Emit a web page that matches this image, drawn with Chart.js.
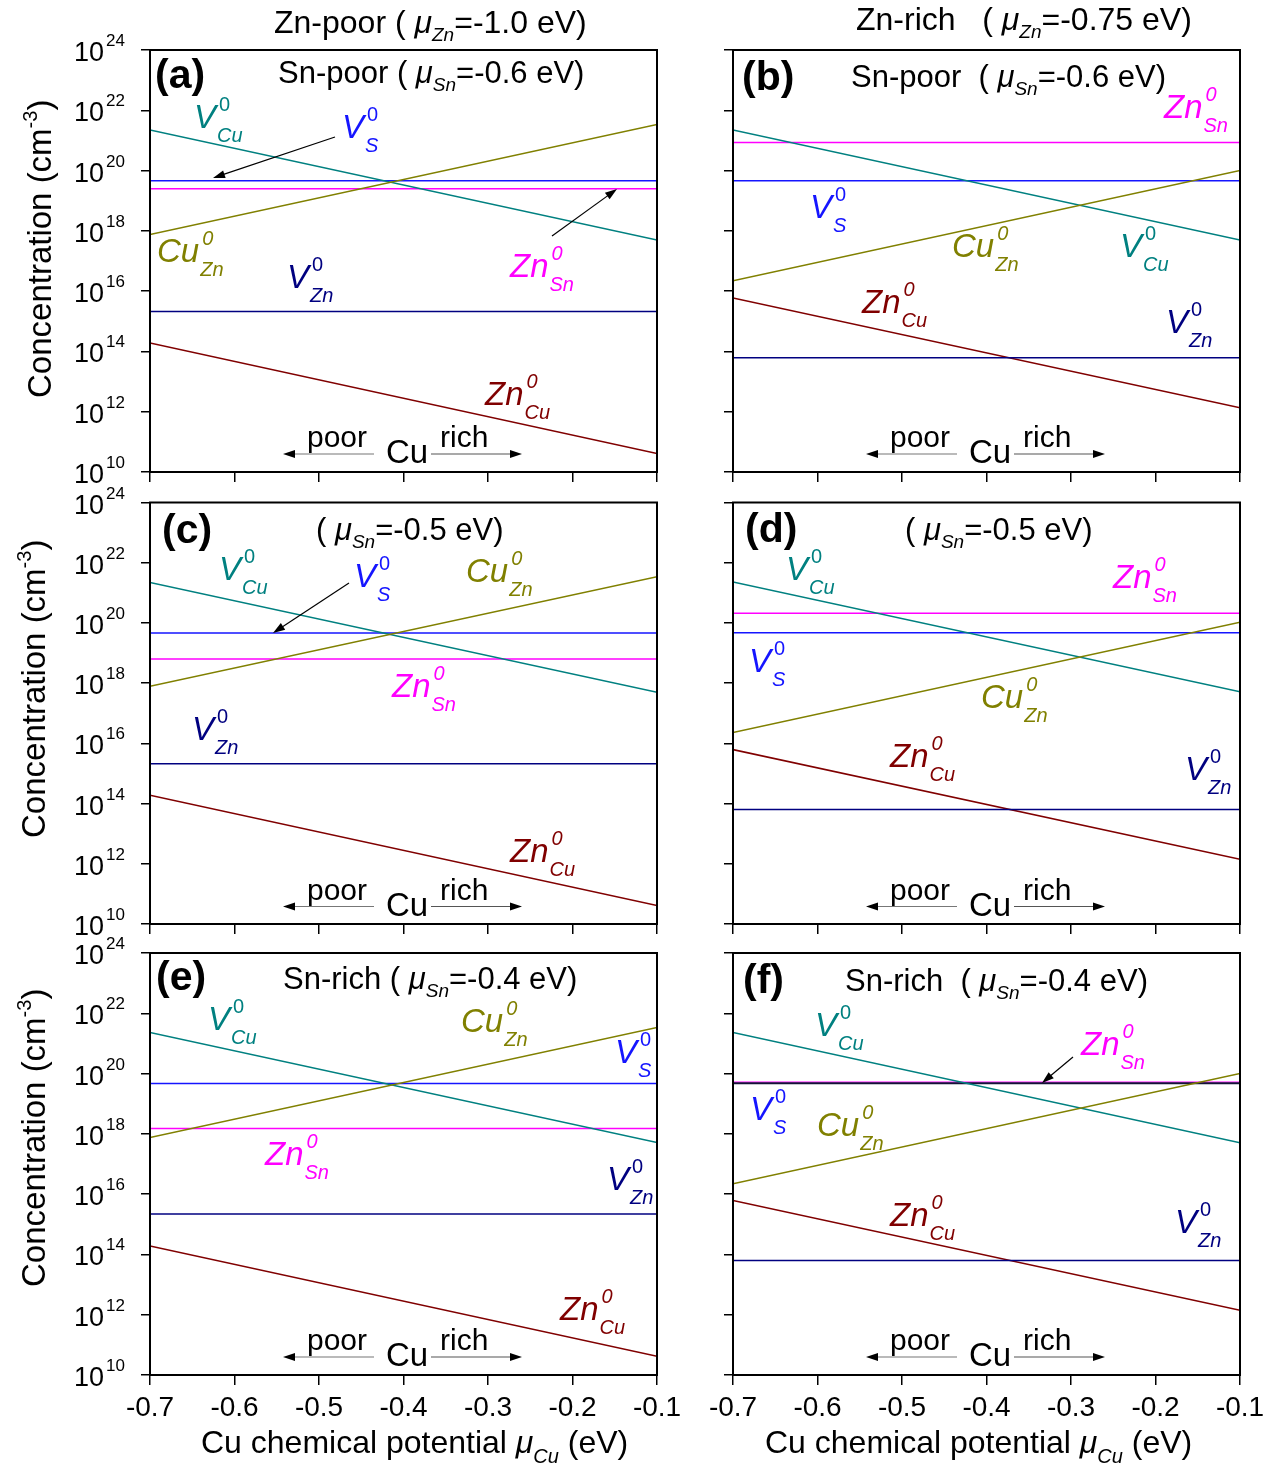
<!DOCTYPE html>
<html><head><meta charset="utf-8">
<script src="https://cdn.jsdelivr.net/npm/chart.js@4.4.1/dist/chart.umd.min.js"></script>
<style>
html,body{margin:0;padding:0;background:#fff;}
body{width:1283px;height:1468px;position:relative;overflow:hidden;}
canvas{position:absolute;}
</style></head><body>
<script>
// ---------------- DATA ----------------
const muCu = [-0.7, -0.1];                       // Cu chemical potential (eV), line end points
const xTicks = [-0.7, -0.6, -0.5, -0.4, -0.3, -0.2, -0.1];
const yTicks = [1e10, 1e12, 1e14, 1e16, 1e18, 1e20, 1e22, 1e24];

// (a) Zn-poor, Sn-poor
const a_VCu  = [2.2e21, 5.0e17];
const a_CuZn = [7.6e17, 3.4e21];
const a_VS   = [4.6e19, 4.6e19];
const a_ZnSn = [2.5e19, 2.5e19];
const a_VZn  = [2.1e15, 2.1e15];
const a_ZnCu = [1.9e14, 4.1e10];
// (b) Zn-rich, Sn-poor
const b_VCu  = [2.2e21, 5.0e17];
const b_CuZn = [2.2e16, 1.0e20];
const b_VS   = [4.6e19, 4.6e19];
const b_ZnSn = [8.5e20, 8.5e20];
const b_VZn  = [6.2e13, 6.2e13];
const b_ZnCu = [5.9e15, 1.35e12];
// (c) Zn-poor, mu_Sn = -0.5
const c_VCu  = [2.2e21, 5.0e17];
const c_CuZn = [7.8e17, 3.4e21];
const c_VS   = [4.6e19, 4.6e19];
const c_ZnSn = [6.3e18, 6.3e18];
const c_VZn  = [2.1e15, 2.1e15];
const c_ZnCu = [1.9e14, 4.1e10];
// (d) Zn-rich, mu_Sn = -0.5
const d_VCu  = [2.3e21, 5.2e17];
const d_CuZn = [2.3e16, 1.05e20];
const d_VS   = [4.7e19, 4.7e19];
const d_ZnSn = [2.1e20, 2.1e20];
const d_VZn  = [6.3e13, 6.3e13];
const d_ZnCu = [6.2e15, 1.4e12];
// (e) Zn-poor, Sn-rich
const e_VCu  = [2.3e21, 5.2e17];
const e_CuZn = [7.6e17, 3.4e21];
const e_VS   = [4.7e19, 4.7e19];
const e_ZnSn = [1.5e18, 1.5e18];
const e_VZn  = [2.2e15, 2.2e15];
const e_ZnCu = [1.9e14, 4.2e10];
// (f) Zn-rich, Sn-rich
const f_VCu  = [2.3e21, 5.1e17];
const f_CuZn = [2.2e16, 1.0e20];
const f_VS   = [4.8e19, 4.8e19];
const f_ZnSn = [5.2e19, 5.2e19];
const f_VZn  = [6.3e13, 6.3e13];
const f_ZnCu = [6.2e15, 1.4e12];

// ---------------- STYLE / LAYOUT ----------------
const FF = '"Liberation Sans", Arial, Helvetica, sans-serif';
Chart.defaults.font.family = FF;
function fnt(s, i, b){ return (i?'italic ':'') + (b?'bold ':'') + s + 'px ' + FF; }

const COLORS = {VCu:'#008080', CuZn:'#808000', VS:'#1515ff', ZnSn:'#ff00ff', VZn:'#000080', ZnCu:'#800000'};
const SPEC = {
  VCu:['V','0','Cu',false], VS:['V','0','S',false], VZn:['V','0','Zn',false],
  CuZn:['Cu','0','Zn',true], ZnSn:['Zn','0','Sn',true], ZnCu:['Zn','0','Cu',true]
};
const COLS = [{left:0, width:690, plotL:150, plotR:657}, {left:683, width:600, plotL:733, plotR:1240}];
const ROWS = [{top:0, height:495, plotT:50, plotB:472}, {top:478, height:467, plotT:502.5, plotB:924},
              {top:930, height:538, plotT:953, plotB:1375}];

const PANELS = [
 {col:0,row:0, d:{VZn:a_VZn,ZnCu:a_ZnCu,CuZn:a_CuZn,VCu:a_VCu,ZnSn:a_ZnSn,VS:a_VS},
  letter:['(a)',155,88], head:[278,83,'Sn-poor ','-0.6'],
  labels:[['VCu',194,128],['VS',342,138],['CuZn',157,262],['ZnSn',510,277],['VZn',287,288],['ZnCu',485,405]],
  arrows:[[335,137,213,178],[552,236,617,189]]},
 {col:1,row:0, d:{VZn:b_VZn,ZnCu:b_ZnCu,CuZn:b_CuZn,VCu:b_VCu,ZnSn:b_ZnSn,VS:b_VS},
  letter:['(b)',742,90], head:[851,87,'Sn-poor  ','-0.6'],
  labels:[['ZnSn',1164,118],['VS',810,218],['CuZn',952,257],['VCu',1120,257],['ZnCu',862,313],['VZn',1166,333]],
  arrows:[]},
 {col:0,row:1, d:{VZn:c_VZn,ZnCu:c_ZnCu,CuZn:c_CuZn,VCu:c_VCu,ZnSn:c_ZnSn,VS:c_VS},
  letter:['(c)',162,543], head:[316,540,'','-0.5'],
  labels:[['VCu',219,580],['VS',354,587],['CuZn',466,582],['ZnSn',392,697],['VZn',192,740],['ZnCu',510,862]],
  arrows:[[349,583,273,633]]},
 {col:1,row:1, d:{VZn:d_VZn,ZnCu:d_ZnCu,CuZn:d_CuZn,VCu:d_VCu,ZnSn:d_ZnSn,VS:d_VS},
  letter:['(d)',745,542], head:[905,540,'','-0.5'],
  labels:[['VCu',786,580],['ZnSn',1113,588],['VS',749,672],['CuZn',981,708],['ZnCu',890,767],['VZn',1185,780]],
  arrows:[]},
 {col:0,row:2, d:{VZn:e_VZn,ZnCu:e_ZnCu,CuZn:e_CuZn,VCu:e_VCu,ZnSn:e_ZnSn,VS:e_VS},
  letter:['(e)',156,990], head:[283,989,'Sn-rich ','-0.4'],
  labels:[['VCu',208,1030],['CuZn',461,1032],['VS',615,1063],['ZnSn',265,1165],['VZn',607,1190],['ZnCu',560,1320]],
  arrows:[]},
 {col:1,row:2, d:{VZn:f_VZn,ZnCu:f_ZnCu,CuZn:f_CuZn,VCu:f_VCu,VS:f_VS,ZnSn:f_ZnSn},
  letter:['(f)',743,993], head:[845,991,'Sn-rich  ','-0.4'],
  labels:[['VCu',815,1036],['ZnSn',1081,1055],['VS',750,1120],['CuZn',817,1136],['ZnCu',890,1226],['VZn',1175,1233]],
  arrows:[[1073,1057,1042,1083]], overlap:true}
];

// ---------------- DRAW HELPERS ----------------
function rich(ctx, x, y, parts){
  let cx = x;
  for (const p of parts){
    ctx.font = fnt(p.s, p.i, p.b);
    ctx.fillStyle = p.c || '#000';
    ctx.fillText(p.t, cx, y + (p.dy||0));
    cx += ctx.measureText(p.t).width;
  }
  return cx - x;
}
function species(ctx, x, y, key){
  const [m, sp, sb, spIt] = SPEC[key];
  ctx.fillStyle = COLORS[key];
  ctx.font = fnt(33, true);
  ctx.fillText(m, x, y);
  const w = ctx.measureText(m).width;
  ctx.font = fnt(20, spIt);
  ctx.fillText(sp, x + w + 3, y - 17);
  ctx.font = fnt(20, true);
  ctx.fillText(sb, x + w + 1, y + 14);
}
function arrow(ctx, x1, y1, x2, y2, lineCol){
  const ang = Math.atan2(y2 - y1, x2 - x1), L = 12, H = 4;
  ctx.strokeStyle = lineCol || '#000'; ctx.lineWidth = 1.2;
  ctx.beginPath(); ctx.moveTo(x1, y1);
  ctx.lineTo(x2 - Math.cos(ang)*L*0.8, y2 - Math.sin(ang)*L*0.8); ctx.stroke();
  ctx.fillStyle = '#000';
  ctx.beginPath(); ctx.moveTo(x2, y2);
  ctx.lineTo(x2 - Math.cos(ang)*L - Math.sin(ang)*H, y2 - Math.sin(ang)*L + Math.cos(ang)*H);
  ctx.lineTo(x2 - Math.cos(ang)*L + Math.sin(ang)*H, y2 - Math.sin(ang)*L - Math.cos(ang)*H);
  ctx.closePath(); ctx.fill();
}
function muHead(pre, sub, val, s){
  return [{t:pre + '( ', s:s}, {t:'\u03bc', s:s, i:true}, {t:sub, s:Math.round(s*0.6), i:true, dy:8}, {t:'=' + val + ' eV)', s:s}];
}

function makePlugin(P, col, row){
  return {
    id: 'annot',
    afterDraw(chart){
      const ctx = chart.ctx, ca = chart.chartArea;
      // map page coordinates to canvas coordinates through the chart area
      const X = px => ca.left + (px - col.plotL), Y = py => ca.top + (py - row.plotT);
      ctx.save();
      ctx.textAlign = 'left'; ctx.textBaseline = 'alphabetic';
      // frame
      ctx.strokeStyle = '#000'; ctx.lineWidth = 2;
      ctx.strokeRect(ca.left, ca.top, ca.width, ca.height);
      // y tick labels (left column only)
      if (P.col === 0){
        const ys = chart.scales.y;
        for (const v of yTicks){
          const py = ys.getPixelForValue(v);
          ctx.fillStyle = '#000';
          ctx.font = fnt(27); ctx.textAlign = 'right';
          ctx.fillText('10', ca.left - 46, py + 11);
          ctx.textAlign = 'left'; ctx.font = fnt(17);
          ctx.fillText(String(Math.round(Math.log10(v))), ca.left - 44, py - 4);
        }
        // y axis title
        const bx = row === ROWS[0] ? 51 : 45;
        const by = [398, 838, 1287][PANELS.indexOf(P) >> 1];
        ctx.save();
        ctx.translate(X(bx), Y(by)); ctx.rotate(-Math.PI/2);
        rich(ctx, 0, 0, [{t:'Concentration (cm', s:33}, {t:'-3', s:20, dy:-14}, {t:')', s:33}]);
        ctx.restore();
      }
      // column titles
      if (P.row === 0){
        if (P.col === 0) rich(ctx, X(274), Y(33), muHead('Zn-poor ', 'Zn', '-1.0', 32));
        else rich(ctx, X(856), Y(30), muHead('Zn-rich   ', 'Zn', '-0.75', 32));
      }
      // x axis title (bottom row)
      if (P.row === 2){
        const tx = P.col === 0 ? 201 : 765;
        rich(ctx, X(tx), Y(1453), [{t:'Cu chemical potential ', s:32}, {t:'\u03bc', s:32, i:true},
             {t:'Cu', s:20, i:true, dy:10}, {t:' (eV)', s:32}]);
      }
      // panel letter + heading
      ctx.fillStyle = '#000'; ctx.font = fnt(41, false, true);
      ctx.fillText(P.letter[0], X(P.letter[1]), Y(P.letter[2]));
      rich(ctx, X(P.head[0]), Y(P.head[1]), muHead(P.head[2], 'Sn', P.head[3], 31));
      // species labels
      for (const [k, lx, ly] of P.labels) species(ctx, X(lx), Y(ly), k);
      for (const a of P.arrows) arrow(ctx, X(a[0]), Y(a[1]), X(a[2]), Y(a[3]));
      // poor  Cu  rich
      const ox = col.plotL, oy = row.plotT;
      const R = (dx, dy) => [X(ox + dx), Y(oy + dy)];
      ctx.fillStyle = '#000';
      ctx.font = fnt(30); ctx.fillText('poor', ...R(157, 397)); ctx.fillText('rich', ...R(290, 397));
      ctx.font = fnt(33); ctx.fillText('Cu', ...R(236, 413));
      arrow(ctx, ...R(224, 404), ...R(133, 404), '#777');
      arrow(ctx, ...R(281, 404), ...R(372, 404), '#555');
      ctx.restore();
    }
  };
}

// ---------------- CHARTS ----------------
const ORDER = ['VZn','ZnCu','CuZn','VCu','ZnSn','VS'];
PANELS.forEach(P => {
  const col = COLS[P.col], row = ROWS[P.row];
  const cv = document.createElement('canvas');
  cv.width = col.width; cv.height = row.height;
  cv.style.left = col.left + 'px'; cv.style.top = row.top + 'px';
  cv.style.width = col.width + 'px'; cv.style.height = row.height + 'px';
  document.body.appendChild(cv);
  const datasets = ORDER.map(k => ({
    label: k,
    data: muCu.map((x, i) => ({x: x, y: P.d[k][i]})),
    borderColor: (P.overlap && k === 'VS') ? '#141438' : COLORS[k],
    borderWidth: (P.overlap && k === 'VS') ? 2 : 1.5,
    pointRadius: 0, tension: 0, fill: false
  }));
  if (P.overlap){ // draw magenta after the dark line so its fringe stays visible
    const zs = datasets.splice(datasets.findIndex(d => d.label === 'ZnSn'), 1)[0];
    zs.borderWidth = 1.2; datasets.push(zs);
  }
  new Chart(cv, {
    type: 'line',
    data: {datasets},
    options: {
      responsive: false, animation: false, devicePixelRatio: 1,
      layout: {padding: {top: row.plotT - row.top, right: col.left + col.width - col.plotR, left: 0, bottom: 0}},
      plugins: {legend: {display: false}, tooltip: {enabled: false}, title: {display: false}},
      scales: {
        x: {
          type: 'linear', min: -0.7, max: -0.1,
          afterBuildTicks: s => { s.ticks = xTicks.map(v => ({value: v})); },
          afterFit: s => { s.height = row.top + row.height - row.plotB; },
          ticks: {display: P.row === 2, color: '#000', font: {size: 28}, padding: 6, maxRotation: 0, autoSkip: false,
                  callback: v => Number(v).toFixed(1)},
          grid: {drawOnChartArea: false, drawTicks: true, tickLength: 10, color: '#000', lineWidth: 1.5},
          border: {display: false}
        },
        y: {
          type: 'logarithmic', min: 1e10, max: 1e24,
          afterBuildTicks: s => { s.ticks = yTicks.map(v => ({value: v})); },
          afterFit: s => { s.width = col.plotL - col.left; },
          ticks: {display: false},
          grid: {drawOnChartArea: false, drawTicks: true, tickLength: 9, color: '#000', lineWidth: 1.5},
          border: {display: false}
        }
      }
    },
    plugins: [makePlugin(P, col, row)]
  });
});
</script>
</body></html>
